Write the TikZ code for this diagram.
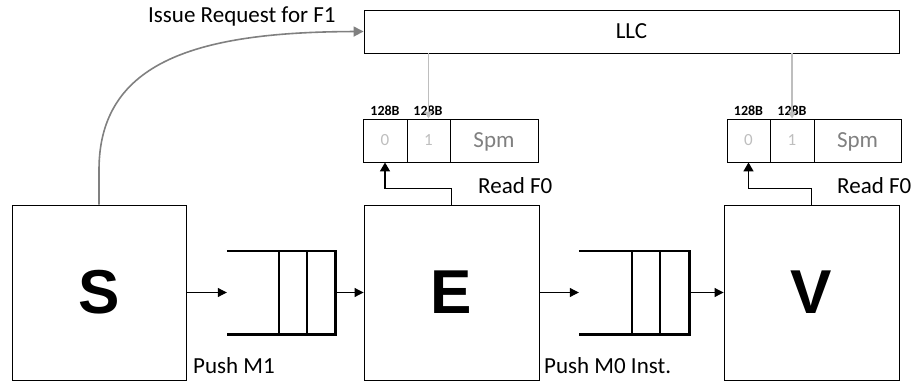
\documentclass[tikz,border=0pt]{standalone}
\usepackage{fontspec}
\setmainfont{Carlito}
\newfontfamily\arialfont{Liberation Sans}
\usetikzlibrary{arrows.meta}
\definecolor{midgray}{RGB}{128,128,128}
\definecolor{lightgray2}{RGB}{190,190,190}
\begin{document}
\begin{tikzpicture}[x=1pt,y=-1pt,
  box/.style={draw=black,line width=0.9pt,inner sep=0pt,minimum height=175pt,minimum width=175pt,
    font=\arialfont\bfseries\fontsize{62}{70}\selectfont},
  cell/.style={draw=black,line width=0.9pt,inner sep=0pt,minimum height=43pt,
    text=lightgray2,font=\fontsize{17}{20}\selectfont},
  spmcell/.style={cell,text=midgray,text depth=0pt,font=\fontsize{23}{27}\selectfont},
  lbl/.style={inner sep=0pt,anchor=base west,font=\fontsize{23}{27}\selectfont},
  small/.style={inner sep=0pt,anchor=base,font=\bfseries\fontsize{14}{17}\selectfont},
  queue/.style={inner sep=0pt,minimum width=108pt,minimum height=83pt},
  qline/.style={line width=2.6pt},
  arr/.style={line width=1pt,-{Triangle[length=9pt,width=9pt]}},
  readarr/.style={line width=1.6pt,-{Triangle[length=9pt,width=10pt]}},
  grayarr/.style={draw=midgray,line width=1.6pt,-{Triangle[length=10pt,width=10pt]}},
  llcarr/.style={draw=lightgray2,line width=1.6pt,-{Triangle[length=7pt,width=8pt]}}
]
\useasboundingbox (0,0) rectangle (912,383);
% main boxes
\node[box,minimum width=174pt] (S) at (99,292.5) {S};
\node[box] (E) at (451.5,292.5) {E};
\node[box] (V) at (811.5,292.5) {V};
\node[draw=black,line width=0.9pt,inner sep=0pt,minimum width=535pt,minimum height=43pt,
  font=\fontsize{23}{27}\selectfont] (LLC) at (631.5,31.5) {LLC};
% scratchpads
\node[cell,minimum width=44pt] (c0a) at (385,140.5) {0};
\node[cell,minimum width=43pt] (c1a) at (428.5,140.5) {1};
\node[spmcell,minimum width=88pt] (spa) at (494,140.5) {Spm};
\node[cell,minimum width=43pt] (c0b) at (748.5,140.5) {0};
\node[cell,minimum width=44pt] (c1b) at (792,140.5) {1};
\node[spmcell,minimum width=87pt] (spb) at (857.5,140.5) {Spm};
\node[small] (b0a) at (385,115.5) {128B};
\node[small] (b1a) at (428,115.5) {128B};
\node[small] (b0b) at (748.5,115.5) {128B};
\node[small] (b1b) at (792,115.5) {128B};
% queues
\node[queue] (q1) at (281,292.5) {};
\draw[qline] (q1.north west) -- (q1.north east) -- (q1.south east) -- (q1.south west);
\draw[qline] ([xshift=52pt]q1.north west) -- ([xshift=52pt]q1.south west);
\draw[qline] ([xshift=80pt]q1.north west) -- ([xshift=80pt]q1.south west);
\node[queue,minimum width=110pt] (q2) at (634,292.5) {};
\draw[qline] (q2.north west) -- (q2.north east) -- (q2.south east) -- (q2.south west);
\draw[qline] ([xshift=53pt]q2.north west) -- ([xshift=53pt]q2.south west);
\draw[qline] ([xshift=81pt]q2.north west) -- ([xshift=81pt]q2.south west);
% flow arrows
\draw[arr] (S.east) -- (q1.west);
\draw[arr] (q1.east) -- (E.west);
\draw[arr] (E.east) -- (q2.west);
\draw[arr] (q2.east) -- (V.west);
% LLC to scratchpads
\draw[llcarr] (LLC.south -| c1a.north) -- (c1a.north);
\draw[llcarr] (LLC.south -| c1b.north) -- (c1b.north);
% read arrows
\draw[readarr] (E.north) -- ++(0,-16) -| (c0a.south);
\draw[readarr] (V.north) -- ++(0,-16) -| (c0b.south);
% issue request curve
\coordinate (sbend) at (99,170);
\draw[grayarr] (S.north -| sbend) -- (sbend) .. controls (99,60) and (200,32) .. (LLC.west);
% labels
\node[lbl] (issue) at (148,22.7) {Issue Request for F1};
\node[lbl] (rd1) at (478,193.5) {Read F0};
\node[lbl] (rd2) at (837,193.5) {Read F0};
\node[lbl] (pm1) at (193,373) {Push M1};
\node[lbl] (pm0) at (544,373) {Push M0 Inst.};
\end{tikzpicture}
\end{document}
